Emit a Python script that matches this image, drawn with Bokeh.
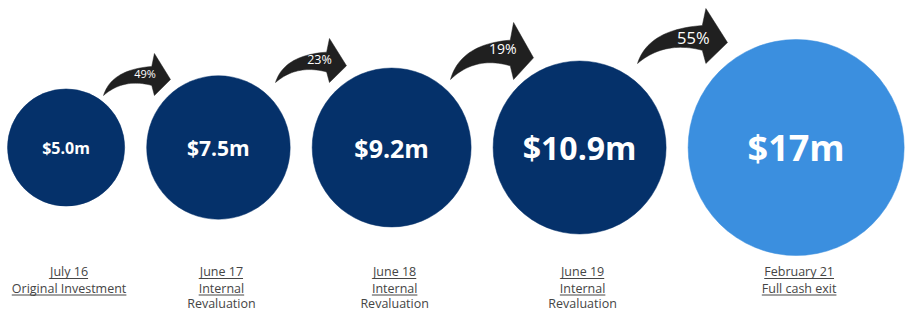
import numpy as np
from bokeh.plotting import figure
from bokeh.models import Range1d, ColumnDataSource
from bokeh.core.properties import value
from bokeh.embed import file_html
from bokeh.resources import INLINE

# ---------------- data ----------------
values = [5.0, 7.5, 9.2, 10.9, 17.0]
value_labels = ["$5.0m", "$7.5m", "$9.2m", "$10.9m", "$17m"]
growth_labels = ["49%", "23%", "19%", "55%"]
dates = ["July 16", "June 17", "June 18", "June 19", "February 21"]
descriptions = ["Original Investment", "Internal", "Internal", "Internal", "Full cash exit"]
extra_lines = ["", "Revaluation", "Revaluation", "Revaluation", ""]

# ---------------- styles / layout (screen px, y measured from top) ----------------
NAVY = "#05316a"
LIGHT = "#3b8fdf"
circle_colors = [NAVY, NAVY, NAVY, NAVY, LIGHT]
value_font_px = [16, 21, 25, 32, 36]
RADIUS_K = 26.2          # px per sqrt($m)
GAP = 22                 # px between circles
LEFT = 7
CY = 147
LABEL_COLOR = "#454545"
LABEL_PX = 12.5
LABEL_DX = 3
LINE_MID = [271, 287.5, 303]
ARROW_BOXES = [(103, 53, 67, 42), (275, 38, 71, 44), (450, 22, 83, 57), (637, 8, 90, 55)]
ARROW_TEXT_PX = [11, 12.5, 14, 16.5]
ARROW_TEXT_POS = [(0.62, 0.47), (0.62, 0.48), (0.63, 0.45), (0.62, 0.53)]

W, H = 912, 311
def Y(sy):
    return H - np.asarray(sy, dtype=float)

p = figure(width=W, height=H, output_backend="svg", toolbar_location=None,
           x_range=Range1d(0, W), y_range=Range1d(0, H),
           min_border=0, background_fill_color="white", border_fill_color="white")
p.axis.visible = False
p.grid.visible = False
p.outline_line_color = None

# circles: radius proportional to sqrt(value), laid out side by side
radii = [RADIUS_K * np.sqrt(v) for v in values]
centers = []
x = LEFT
for r in radii:
    centers.append(x + r)
    x += 2 * r + GAP

src = ColumnDataSource(dict(x=centers, y=[Y(CY)] * len(values), r=radii, c=circle_colors,
                            t=value_labels, fs=[f"{s}px" for s in value_font_px]))
p.circle(x="x", y="y", radius="r", fill_color="c", line_color="c", line_width=0.5, source=src)
p.text(x="x", y="y", text="t", text_font_size="fs", text_color="white",
       text_font=value("Open Sans"), text_font_style="bold",
       text_align="center", text_baseline="middle", source=src)

# arrows
def qbez(p0, c, p1, n=24):
    t = np.linspace(0, 1, n)[:, None]
    p0, c, p1 = map(np.array, (p0, c, p1))
    return (1 - t) ** 2 * p0 + 2 * (1 - t) * t * c + t ** 2 * p1

upper = qbez((0, 1), (0.12, 0.38), (0.72, 0.31))
head = np.array([(0.76, 0.0), (1.0, 0.62), (0.76, 1.0), (0.72, 0.76)])
lower = qbez((0.72, 0.76), (0.30, 0.58), (0, 1))[:-1]
template = np.vstack([upper, head, lower])

axs, ays, tx, ty = [], [], [], []
for (l, t, w, h), (px, py) in zip(ARROW_BOXES, ARROW_TEXT_POS):
    axs.append(list(l + template[:, 0] * w))
    ays.append(list(Y(t + template[:, 1] * h)))
    tx.append(l + px * w)
    ty.append(float(Y(t + py * h)))
p.patches(axs, ays, fill_color="#202020", line_color="#202020", line_width=0.5)
asrc = ColumnDataSource(dict(x=tx, y=ty, t=growth_labels, fs=[f"{s}px" for s in ARROW_TEXT_PX]))
p.text(x="x", y="y", text="t", text_font_size="fs", text_color="white",
       text_font=value("Open Sans"), text_align="center", text_baseline="middle", source=asrc)

# labels under circles
OS_W = {' ': .26, '%': .828, 'A': .633, 'B': .648, 'C': .631, 'D': .729, 'E': .556, 'F': .516,
        'G': .728, 'H': .738, 'I': .279, 'J': .267, 'O': .781, 'R': .618, 'a': .556, 'b': .613,
        'c': .476, 'd': .613, 'e': .561, 'f': .339, 'g': .548, 'h': .614, 'i': .253, 'j': .253,
        'k': .525, 'l': .253, 'm': .930, 'n': .614, 'o': .604, 'p': .613, 'r': .408, 's': .477,
        't': .353, 'u': .614, 'v': .501, 'x': .524, 'y': .502}
def text_w(s, px):
    return sum(OS_W.get(ch, .572) for ch in s) * px

lx, ly, lt = [], [], []
ux0, ux1, uy = [], [], []
for i, c in enumerate(centers):
    cx = c + LABEL_DX
    for j, (line, under) in enumerate([(dates[i], True), (descriptions[i], True), (extra_lines[i], False)]):
        if not line:
            continue
        lx.append(cx); ly.append(float(Y(LINE_MID[j]))); lt.append(line)
        if under:
            w = text_w(line, LABEL_PX)
            ux0.append(cx - w / 2); ux1.append(cx + w / 2); uy.append(float(Y(LINE_MID[j] + 7)))
p.text(x=lx, y=ly, text=lt, text_font_size=f"{LABEL_PX}px", text_color=LABEL_COLOR,
       text_font=value("Open Sans"), text_align="center", text_baseline="middle")
p.segment(x0=ux0, y0=uy, x1=ux1, y1=uy, line_color=LABEL_COLOR, line_width=1)

open("out.html", "w").write(file_html(p, INLINE))
